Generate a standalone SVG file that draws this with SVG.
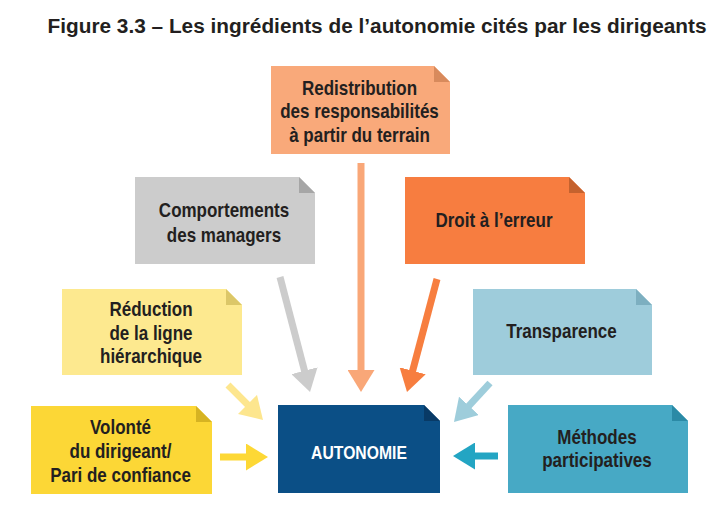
<svg xmlns="http://www.w3.org/2000/svg" width="726" height="521" viewBox="0 0 726 521">
<style>
.t{font-family:"Liberation Sans",Arial,sans-serif;font-weight:bold;font-size:20px;fill:#231F20;text-anchor:middle;transform-box:fill-box;transform-origin:center;transform:scaleX(0.85)}
.w{fill:#FFFFFF;font-size:18.5px}
.title{font-family:"Liberation Sans",Arial,sans-serif;font-weight:bold;font-size:19.5px;fill:#231F20;text-anchor:middle}
.c{fill:none;stroke-width:7;stroke-linecap:butt}
</style>
<defs>
<marker id="mPeach" markerUnits="userSpaceOnUse" markerWidth="22" markerHeight="27" refX="8" refY="13.5" orient="auto"><path d="M0,0 L22,13.5 L0,27 Z" fill="#F9A778"/></marker>
<marker id="mGray" markerUnits="userSpaceOnUse" markerWidth="22" markerHeight="27" refX="8" refY="13.5" orient="auto"><path d="M0,0 L22,13.5 L0,27 Z" fill="#CCCCCC"/></marker>
<marker id="mOrange" markerUnits="userSpaceOnUse" markerWidth="22" markerHeight="27" refX="8" refY="13.5" orient="auto"><path d="M0,0 L22,13.5 L0,27 Z" fill="#F77E3F"/></marker>
<marker id="mLYellow" markerUnits="userSpaceOnUse" markerWidth="22" markerHeight="27" refX="8" refY="13.5" orient="auto"><path d="M0,0 L22,13.5 L0,27 Z" fill="#FDE68E"/></marker>
<marker id="mYellow" markerUnits="userSpaceOnUse" markerWidth="22" markerHeight="27" refX="8" refY="13.5" orient="auto"><path d="M0,0 L22,13.5 L0,27 Z" fill="#FDD835"/></marker>
<marker id="mLBlue" markerUnits="userSpaceOnUse" markerWidth="22" markerHeight="27" refX="8" refY="13.5" orient="auto"><path d="M0,0 L22,13.5 L0,27 Z" fill="#9ECDDB"/></marker>
<marker id="mTeal" markerUnits="userSpaceOnUse" markerWidth="22" markerHeight="27" refX="8" refY="13.5" orient="auto"><path d="M0,0 L22,13.5 L0,27 Z" fill="#23A5C3"/></marker>
</defs>
<rect width="726" height="521" fill="#FFFFFF"/>
<text class="title" x="377" y="33" textLength="659" lengthAdjust="spacingAndGlyphs">Figure 3.3 – Les ingrédients de l’autonomie cités par les dirigeants</text>

<g id="connectors">
<line class="c" stroke="#F9A778" x1="361" y1="163" x2="361" y2="378" marker-end="url(#mPeach)"/>
<line class="c" stroke="#CCCCCC" x1="280" y1="277" x2="306.5" y2="378.4" marker-end="url(#mGray)"/>
<line class="c" stroke="#F77E3F" x1="437" y1="279" x2="410.6" y2="378.5" marker-end="url(#mOrange)"/>
<line class="c" stroke="#FDE68E" x1="228" y1="385" x2="253.1" y2="410.1" marker-end="url(#mLYellow)"/>
<line class="c" stroke="#FDD835" x1="220" y1="457" x2="254" y2="457" marker-end="url(#mYellow)"/>
<line class="c" stroke="#9ECDDB" x1="490" y1="383" x2="463.5" y2="411.7" marker-end="url(#mLBlue)"/>
<line class="c" stroke="#23A5C3" x1="498" y1="456" x2="467" y2="456" marker-end="url(#mTeal)"/>
</g>

<g id="redistribution">
<path d="M271,66 H434 L450,82 V154 H271 Z" fill="#F9A97A"/>
<path d="M434,66 V82 H450 Z" fill="#D88A5C"/>
<text class="t" x="359.5" y="95">Redistribution</text>
<text class="t" x="359.5" y="118.5">des responsabilités</text>
<text class="t" x="359.5" y="142">à partir du terrain</text>
</g>

<g id="comportements">
<path d="M135,177 H299 L315,193 V264 H135 Z" fill="#CCCCCC"/>
<path d="M299,177 V193 H315 Z" fill="#A6A6A6"/>
<text class="t" x="224" y="217">Comportements</text>
<text class="t" x="224" y="242">des managers</text>
</g>

<g id="droit">
<path d="M405,177 H569 L585,193 V264 H405 Z" fill="#F77D40"/>
<path d="M569,177 V193 H585 Z" fill="#C5622E"/>
<text class="t" x="494" y="227">Droit à l’erreur</text>
</g>

<g id="reduction">
<path d="M62,289 H226 L242,305 V375 H62 Z" fill="#FDE98F"/>
<path d="M226,289 V305 H242 Z" fill="#DCC768"/>
<text class="t" x="151" y="316.5">Réduction</text>
<text class="t" x="151" y="340">de la ligne</text>
<text class="t" x="151" y="363.5">hiérarchique</text>
</g>

<g id="transparence">
<path d="M473,289 H636 L652,305 V375 H473 Z" fill="#9ECCDB"/>
<path d="M636,289 V305 H652 Z" fill="#7DAFC0"/>
<text class="t" x="561.5" y="338.5">Transparence</text>
</g>

<g id="volonte">
<path d="M31,406 H196 L212,422 V494 H31 Z" fill="#FCD736"/>
<path d="M196,406 V422 H212 Z" fill="#D6B322"/>
<text class="t" x="120.5" y="434">Volonté</text>
<text class="t" x="120.5" y="458">du dirigeant/</text>
<text class="t" x="120.5" y="482">Pari de confiance</text>
</g>

<g id="autonomie">
<path d="M278,405 H424 L440,421 V493 H278 Z" fill="#0B4F86"/>
<path d="M424,405 V421 H440 Z" fill="#083A66"/>
<text class="t w" x="359" y="459">AUTONOMIE</text>
</g>

<g id="methodes">
<path d="M508,405 H672 L688,421 V493 H508 Z" fill="#47A9C5"/>
<path d="M672,405 V421 H688 Z" fill="#2B8AA6"/>
<text class="t" x="597" y="444">Méthodes</text>
<text class="t" x="597" y="467">participatives</text>
</g>
</svg>
